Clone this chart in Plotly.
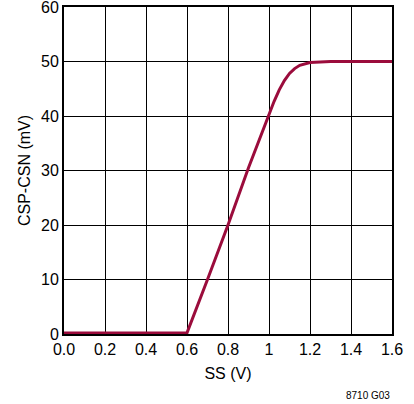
import plotly.graph_objects as go

ss_v = [0.0, 0.3, 0.6, 0.7, 0.8, 0.9, 1.0, 1.025, 1.05, 1.075, 1.1, 1.125, 1.15, 1.175, 1.2, 1.25, 1.3, 1.45, 1.6]
csp_csn_mv = [0.2, 0.2, 0.2, 10.0, 20.0, 30.5, 40.3, 42.7, 44.8, 46.5, 47.8, 48.7, 49.3, 49.6, 49.8, 49.9, 50.0, 50.0, 50.0]

x_ticks = [0.0, 0.2, 0.4, 0.6, 0.8, 1.0, 1.2, 1.4, 1.6]
x_tick_labels = ["0.0", "0.2", "0.4", "0.6", "0.8", "1", "1.2", "1.4", "1.6"]
y_ticks = [0, 10, 20, 30, 40, 50, 60]

font_family = "Liberation Sans Narrow, Liberation Sans, Arial"

fig = go.Figure()
fig.add_trace(go.Scatter(
    x=ss_v, y=csp_csn_mv, mode="lines",
    line=dict(color="#9b0c3c", width=3, shape="linear"),
    showlegend=False, cliponaxis=False,
))

fig.update_layout(
    template="none",
    width=414, height=404,
    margin=dict(l=64, r=22, t=7, b=70, autoexpand=False),
    paper_bgcolor="white", plot_bgcolor="white",
    font=dict(family=font_family, size=16, color="black"),
    xaxis=dict(
        range=[0, 1.6], tickvals=x_ticks, ticktext=x_tick_labels,
        showgrid=True, gridcolor="black", gridwidth=1,
        showline=True, linecolor="black", linewidth=2, mirror=True,
        ticks="", zeroline=False, automargin=False, ticklabeloverflow="allow",
        title=dict(text="SS (V)", font=dict(size=16), standoff=11),
    ),
    yaxis=dict(
        range=[0, 60], tickvals=y_ticks,
        showgrid=True, gridcolor="black", gridwidth=1,
        showline=True, linecolor="black", linewidth=2, mirror=True,
        ticks="", zeroline=False, automargin=False, ticklabeloverflow="allow",
        title=dict(text="CSP-CSN (mV)", font=dict(size=16), standoff=6),
    ),
)

fig.add_annotation(
    text="8710 G03", xref="paper", yref="paper", x=1.0, y=-0.165,
    xanchor="right", yanchor="top", showarrow=False,
    font=dict(size=10, family=font_family),
)

fig.write_html("out.html", config={"displayModeBar": False},
               post_script="document.body.style.margin='0px';")
